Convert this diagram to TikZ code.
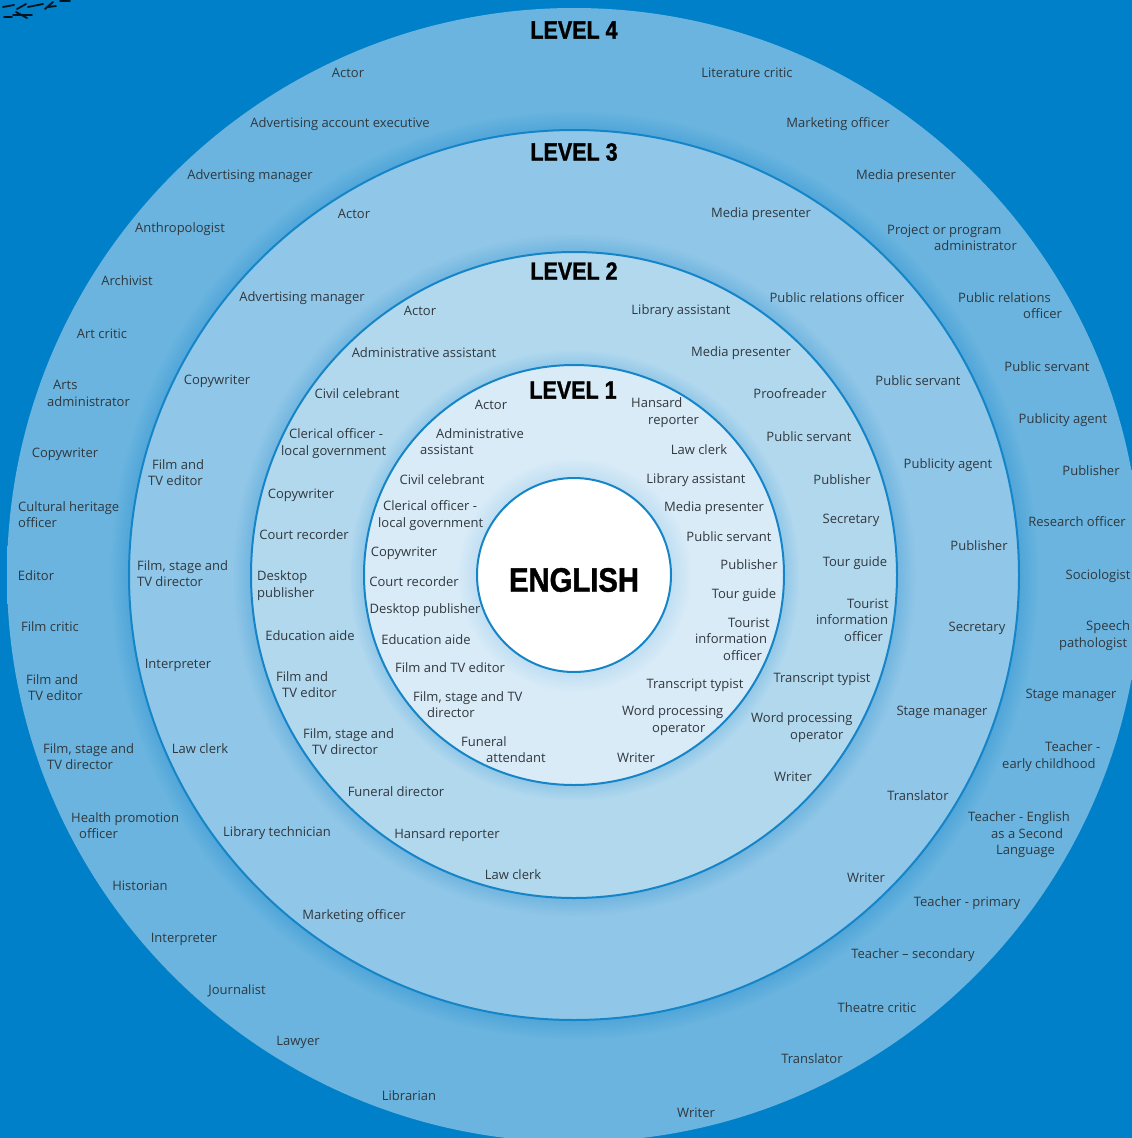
\documentclass[tikz,border=0pt]{standalone}
\usepackage{fontspec}
\setmainfont{Open Sans}
\newfontfamily\titlefont[FakeStretch=0.86,FakeBold=1.2]{Liberation Sans}
\definecolor{bgblue}{HTML}{0080C8}
\definecolor{edgeblue}{HTML}{1685C8}
\definecolor{lfour}{HTML}{6AB4DF}
\definecolor{lfourg}{HTML}{4FA5D8}
\definecolor{lthree}{HTML}{90C6E7}
\definecolor{lthreeg}{HTML}{72B6E0}
\definecolor{ltwo}{HTML}{B2D8EE}
\definecolor{ltwog}{HTML}{93C8E7}
\definecolor{lone}{HTML}{D9EBF7}
\definecolor{loneg}{HTML}{BFDEF2}
\definecolor{labelink}{HTML}{30383E}
% radial shadings: 25bp is the rim of the disc, the stops hold a soft glow around the next disc in
\pgfdeclareradialshading{discfour}{\pgfpoint{0bp}{0bp}}{color(0bp)=(lfourg); color(19.6bp)=(lfourg); color(20.5bp)=(lfour); color(50bp)=(lfour)}
\pgfdeclareradialshading{discthree}{\pgfpoint{0bp}{0bp}}{color(0bp)=(lthreeg); color(18.2bp)=(lthreeg); color(19.2bp)=(lthree); color(50bp)=(lthree)}
\pgfdeclareradialshading{disctwo}{\pgfpoint{0bp}{0bp}}{color(0bp)=(ltwog); color(16.3bp)=(ltwog); color(17.5bp)=(ltwo); color(50bp)=(ltwo)}
\pgfdeclareradialshading{discone}{\pgfpoint{0bp}{0bp}}{color(0bp)=(loneg); color(11.5bp)=(loneg); color(14bp)=(lone); color(50bp)=(lone)}
\tikzset{
  disc/.style={circle,minimum size=#1*2pt,inner sep=0pt,outer sep=0pt},
  rimmed/.style={draw=edgeblue,line width=2pt},
  job/.style={text=labelink,font=\fontsize{13}{16.5}\selectfont,inner sep=0pt,yshift=-0.8pt},
  jobs/.style={job,align=left,anchor=west},
  leveltitle/.style={text=black,font=\titlefont\bfseries\fontsize{25}{25}\selectfont,inner sep=0pt},
  maintitle/.style={text=black,font=\titlefont\bfseries\fontsize{34}{34}\selectfont,inner sep=0pt},
  smudge/.style={draw=black!85!bgblue,line width=1.8pt,line cap=round},
}
\begin{document}
\begin{tikzpicture}[x=1pt,y=-1pt]
\useasboundingbox (0,0) rectangle (1132,1138);
\fill[bgblue] (0,0) rectangle (1132,1138);
% discs
\node[disc=567,shading=discfour] (dfour) at (574,575) {};
\node[disc=445,shading=discthree,rimmed] (dthree) at (574,575) {};
\node[disc=323,shading=disctwo,rimmed] (dtwo) at (574,575) {};
\node[disc=210,shading=discone,rimmed] (done) at (574,575) {};
\node[disc=97,fill=white,rimmed] (dcore) at (574,575) {};
% smudge in the top left corner
\draw[smudge] (3,7) -- (14,5) (17,9) -- (26,4) (28,7) -- (43,4) (45,9) -- (53,2) (13,15) -- (32,15) (16,12) -- (27,18) (4,17) -- (12,17) (60,1) -- (70,1) (48,7) -- (56,6);
% titles
\node[maintitle] (english) at (574,580) {ENGLISH};
\node[leveltitle] (lvfour) at (574,30) {LEVEL 4};
\node[leveltitle] (lvthree) at (574,152) {LEVEL 3};
\node[leveltitle] (lvtwo) at (574,271) {LEVEL 2};
\node[leveltitle] (lvone) at (573,390) {LEVEL 1};
% level 4
\node[job] (d1) at (348,72) {Actor};
\node[job] (d2) at (747,72) {Literature critic};
\node[job] (d3) at (340,123) {Advertising account executive};
\node[job] (d4) at (838,123) {Marketing officer};
\node[job] (d5) at (250,175) {Advertising manager};
\node[job] (d6) at (906,175) {Media presenter};
\node[job] (d7) at (180,228) {Anthropologist};
\node[jobs] (d8) at (887,237) {Project or program\\\hspace*{47pt}administrator};
\node[job] (d9) at (127,280) {Archivist};
\node[jobs] (d10) at (958,305) {Public relations\\\hspace*{65pt}officer};
\node[job] (d11) at (102,333) {Art critic};
\node[job] (d12) at (1047,366) {Public servant};
\node[jobs] (d13) at (47,392.5) {\hspace*{6pt}Arts\\administrator};
\node[job] (d14) at (1063,419) {Publicity agent};
\node[job] (d15) at (65,453) {Copywriter};
\node[job] (d16) at (1091,470) {Publisher};
\node[jobs] (d17) at (18,514) {Cultural heritage\\officer};
\node[job] (d18) at (1077,521) {Research officer};
\node[job] (d19) at (36,575) {Editor};
\node[job] (d20) at (1098,575) {Sociologist};
\node[job] (d21) at (50,626) {Film critic};
\node[jobs] (d22) at (1059,635) {\hspace*{27pt}Speech\\pathologist};
\node[jobs] (d23) at (26,687) {Film and\\\hspace*{2pt}TV editor};
\node[job] (d24) at (1071,695) {Stage manager};
\node[jobs] (d25) at (43,756) {Film, stage and\\\hspace*{4pt}TV director};
\node[jobs] (d26) at (1002,756) {\hspace*{43pt}Teacher -\\early childhood};
\node[jobs] (d27) at (71,825) {Health promotion\\\hspace*{8pt}officer};
\node[jobs] (d28) at (968,834) {Teacher - English\\\hspace*{23pt}as a Second\\\hspace*{28pt}Language};
\node[job] (d29) at (140,885) {Historian};
\node[job] (d30) at (967,902) {Teacher - primary};
\node[job] (d31) at (184,939) {Interpreter};
\node[job] (d32) at (913,954) {Teacher – secondary};
\node[job] (d33) at (237,990) {Journalist};
\node[job] (d34) at (877,1007) {Theatre critic};
\node[job] (d35) at (298,1042) {Lawyer};
\node[job] (d36) at (812,1058) {Translator};
\node[job] (d37) at (409,1095) {Librarian};
\node[job] (d38) at (696,1112) {Writer};
% level 3
\node[job] (c1) at (354,213) {Actor};
\node[job] (c2) at (761,213) {Media presenter};
\node[job] (c3) at (302,297) {Advertising manager};
\node[job] (c4) at (837,297) {Public relations officer};
\node[job] (c5) at (217,380) {Copywriter};
\node[job] (c6) at (918,380) {Public servant};
\node[jobs] (c7) at (148,472) {\hspace*{4pt}Film and\\TV editor};
\node[job] (c8) at (948,464) {Publicity agent};
\node[jobs] (c9) at (137,573) {Film, stage and\\TV director};
\node[job] (c10) at (979,545) {Publisher};
\node[job] (c11) at (178,665) {Interpreter};
\node[job] (c12) at (977,628) {Secretary};
\node[job] (c13) at (200,748) {Law clerk};
\node[job] (c14) at (942,712) {Stage manager};
\node[job] (c15) at (277,832) {Library technician};
\node[job] (c16) at (918,795) {Translator};
\node[job] (c17) at (354,915) {Marketing officer};
\node[job] (c18) at (866,877) {Writer};
% level 2
\node[job] (b1) at (420,310) {Actor};
\node[job] (b2) at (681,310) {Library assistant};
\node[job] (b3) at (424,352) {Administrative assistant};
\node[job] (b4) at (741,352) {Media presenter};
\node[job] (b5) at (357,393) {Civil celebrant};
\node[job] (b6) at (790,393) {Proofreader};
\node[jobs] (b7) at (281,443) {\hspace*{8pt}Clerical officer -\\local government};
\node[job] (b8) at (809,436) {Public servant};
\node[job] (b9) at (301,494) {Copywriter};
\node[job] (b10) at (842,479) {Publisher};
\node[job] (b11) at (304,534) {Court recorder};
\node[job] (b12) at (851,520) {Secretary};
\node[jobs] (b13) at (257,585) {Desktop\\publisher};
\node[job] (b14) at (855,562) {Tour guide};
\node[job] (b15) at (310,635) {Education aide};
\node[jobs] (b16) at (816,619) {\hspace*{31pt}Tourist\\information\\\hspace*{28pt}officer};
\node[jobs] (b17) at (276,684) {Film and\\\hspace*{6pt}TV editor};
\node[job] (b18) at (822,678) {Transcript typist};
\node[jobs] (b19) at (303,741) {Film, stage and\\\hspace*{9pt}TV director};
\node[jobs] (b20) at (751,727) {Word processing\\\hspace*{39pt}operator};
\node[job] (b21) at (396,791) {Funeral director};
\node[job] (b22) at (793,776) {Writer};
\node[job] (b23) at (447,834) {Hansard reporter};
\node[job] (b24) at (513,874) {Law clerk};
% level 1
\node[job] (a1) at (491,404) {Actor};
\node[jobs] (a2) at (631,412) {Hansard\\\hspace*{17pt}reporter};
\node[jobs] (a3) at (420,441) {\hspace*{16pt}Administrative\\assistant};
\node[job] (a4) at (699,449) {Law clerk};
\node[job] (a5) at (442,479) {Civil celebrant};
\node[job] (a6) at (696,479) {Library assistant};
\node[jobs] (a7) at (378,515) {\hspace*{5pt}Clerical officer -\\local government};
\node[job] (a8) at (714,507) {Media presenter};
\node[job] (a9) at (404,552) {Copywriter};
\node[job] (a10) at (729,536) {Public servant};
\node[job] (a11) at (414,581) {Court recorder};
\node[job] (a12) at (749,564) {Publisher};
\node[job] (a13) at (425,609) {Desktop publisher};
\node[job] (a14) at (744,594) {Tour guide};
\node[job] (a15) at (426,639) {Education aide};
\node[jobs] (a16) at (695,638) {\hspace*{33pt}Tourist\\information\\\hspace*{28pt}officer};
\node[job] (a17) at (450,667) {Film and TV editor};
\node[job] (a18) at (695,684) {Transcript typist};
\node[jobs] (a19) at (413,704) {Film, stage and TV\\\hspace*{14pt}director};
\node[jobs] (a20) at (622,720) {Word processing\\\hspace*{30pt}operator};
\node[jobs] (a21) at (461,749) {Funeral\\\hspace*{25pt}attendant};
\node[job] (a22) at (636,757) {Writer};
\end{tikzpicture}
\end{document}
